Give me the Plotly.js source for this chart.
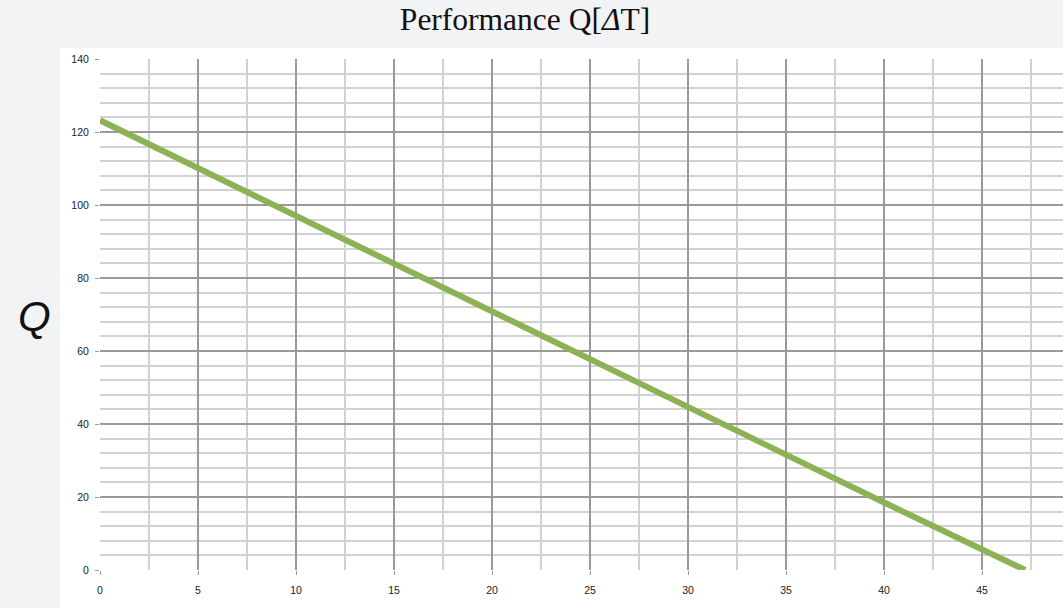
<!DOCTYPE html>
<html>
<head>
<meta charset="utf-8">
<script src="https://cdn.plot.ly/plotly-3.0.1.min.js"></script>
<style>
html,body{margin:0;padding:0;overflow:hidden;background:#f2f3f5;}
#chart{width:1063px;height:608px;}
</style>
</head>
<body>
<div id="chart"></div>
<script>
// Data
const deltaT = [0, 10, 20, 30, 40, 47.2];
const Q = [123.2, 97.0, 70.8, 44.6, 18.5, 0];
const xTicks = [0, 5, 10, 15, 20, 25, 30, 35, 40, 45];
const yTicks = [0, 20, 40, 60, 80, 100, 120, 140];
const titleText = 'Performance Q[<i>Δ</i>T]';
const yLabel = 'Q';

const trace = {
  x: deltaT, y: Q, type: 'scatter', mode: 'lines',
  line: {color: '#8db255', width: 6},
  hoverinfo: 'skip'
};

const tickFont = {family: 'Liberation Sans, Arial, sans-serif', size: 10.5, color: '#1a1a1a'};

const layout = {
  width: 1063, height: 608,
  paper_bgcolor: '#f2f3f5',
  plot_bgcolor: '#ffffff',
  margin: {l: 100, r: 0, t: 59, b: 38},
  showlegend: false,
  title: {
    text: titleText,
    font: {family: 'Liberation Serif, Times New Roman, serif', size: 31.5, color: '#111'},
    x: 525 / 1063, xref: 'container', xanchor: 'center',
    y: 1 - 19 / 608, yref: 'container', yanchor: 'middle'
  },
  xaxis: {
    range: [0, 49.13],
    tickvals: xTicks, ticktext: xTicks.map(String),
    showgrid: true, gridcolor: '#9a9a9a', gridwidth: 1.2,
    minor: {dtick: 2.5, tick0: 0, showgrid: true, gridcolor: '#d2d2d2', gridwidth: 2, ticks: '', ticklen: 0},
    ticks: 'outside', ticklen: 4, tickcolor: '#9a9a9a', tickwidth: 1,
    ticklabelstandoff: 6,
    showline: false, zeroline: false,
    tickfont: tickFont, fixedrange: true
  },
  yaxis: {
    range: [0, 140],
    tickvals: yTicks, ticktext: yTicks.map(String),
    showgrid: true, gridcolor: '#9a9a9a', gridwidth: 1.2,
    minor: {dtick: 4, tick0: 0, showgrid: true, gridcolor: '#d2d2d2', gridwidth: 2, ticks: '', ticklen: 0},
    ticks: 'outside', ticklen: 4, tickcolor: '#9a9a9a', tickwidth: 1,
    ticklabelstandoff: 4,
    showline: false, zeroline: false,
    tickfont: tickFont, fixedrange: true
  },
  shapes: [{
    type: 'rect', xref: 'paper', yref: 'paper', layer: 'below',
    x0: -40 / 963, x1: 1.05, y0: -38 / 511, y1: 1 + 11 / 511,
    fillcolor: '#ffffff', line: {width: 0}
  }],
  annotations: [{
    text: yLabel, xref: 'paper', yref: 'paper',
    x: -66 / 963, y: (570 - 316) / 511, xanchor: 'center', yanchor: 'middle',
    showarrow: false,
    font: {family: 'Liberation Sans, Arial, sans-serif', size: 42, color: '#111', style: 'italic'}
  }]
};

Plotly.newPlot('chart', [trace], layout, {displayModeBar: false, staticPlot: true});
</script>
</body>
</html>
